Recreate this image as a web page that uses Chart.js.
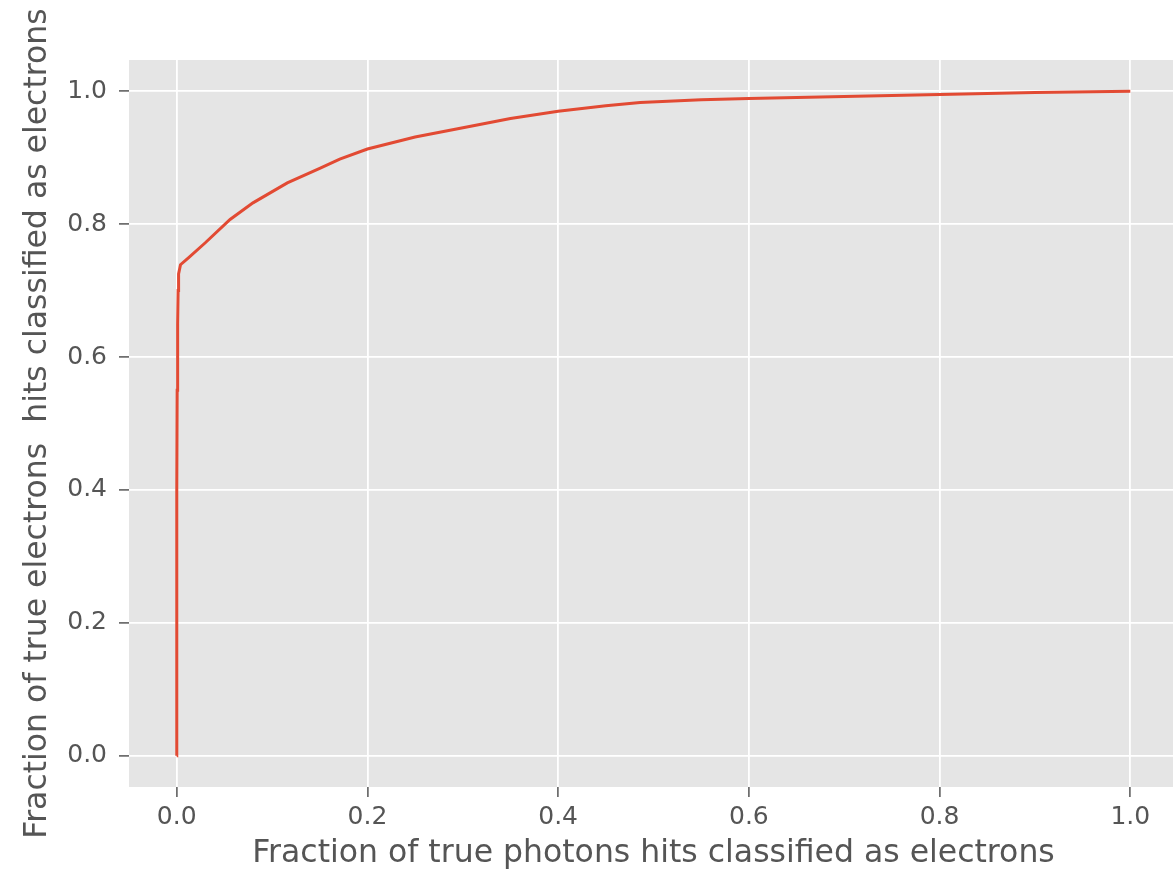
<!DOCTYPE html>
<html>
<head>
<meta charset="utf-8">
<script src="https://cdn.jsdelivr.net/npm/chart.js@4.4.0/dist/chart.umd.min.js"></script>
<style>
  html, body { margin: 0; padding: 0; background: #fff; overflow: hidden; }
  #wrap { width: 1173px; height: 874px; overflow: hidden; }
</style>
</head>
<body>
<div id="wrap"><canvas id="roc" width="1182" height="874"></canvas></div>
<script>
// ROC curve
const falsePos = [0, 0, 0.0002, 0.0005, 0.001, 0.0015, 0.002, 0.004, 0.012, 0.03, 0.056, 0.08, 0.116, 0.15, 0.171, 0.2, 0.25, 0.311, 0.35, 0.4, 0.45, 0.486, 0.55, 0.6, 0.7, 0.8, 0.9, 1.0];
const truePos = [0, 0.2, 0.4, 0.55, 0.65, 0.70, 0.725, 0.739, 0.749, 0.772, 0.807, 0.832, 0.862, 0.884, 0.898, 0.913, 0.931, 0.948, 0.959, 0.970, 0.978, 0.983, 0.987, 0.989, 0.992, 0.995, 0.998, 1.0];
const tickValues = [0, 0.2, 0.4, 0.6, 0.8, 1.0];

const fontFamily = '"DejaVu Sans", sans-serif';
const textColor = '#555555';

const panelBg = {
  id: 'panelBg',
  beforeDraw(chart) {
    const { ctx, chartArea: a } = chart;
    ctx.save();
    ctx.fillStyle = '#E5E5E5';
    ctx.fillRect(a.left, a.top, a.right - a.left, a.bottom - a.top);
    ctx.restore();
  }
};

const fixedTicks = scale => {
  scale.ticks = tickValues.map(v => ({ value: v }));
};

new Chart(document.getElementById('roc'), {
  type: 'scatter',
  data: {
    datasets: [{
      data: falsePos.map((x, i) => ({ x: x, y: truePos[i] })),
      showLine: true,
      borderColor: '#E24A33',
      borderWidth: 3,
      pointRadius: 0,
      tension: 0
    }]
  },
  options: {
    responsive: false,
    animation: false,
    devicePixelRatio: 1,
    layout: { padding: { top: 60, right: 4, left: 0, bottom: 0 } },
    plugins: { legend: { display: false }, tooltip: { enabled: false } },
    scales: {
      x: {
        type: 'linear',
        min: -0.05,
        max: 1.05,
        afterBuildTicks: fixedTicks,
        afterFit: s => { s.height = 87; },
        border: { display: false },
        grid: { color: '#ffffff', lineWidth: 1.8, drawTicks: true, tickLength: 10, tickColor: textColor, tickWidth: 1.5 },
        ticks: { color: textColor, padding: 5, font: { family: fontFamily, size: 25 }, callback: v => v.toFixed(1) },
        title: { display: true, text: 'Fraction of true photons hits classified as electrons', color: textColor, font: { family: fontFamily, size: 31.5 }, padding: { top: 0, bottom: 1 } }
      },
      y: {
        type: 'linear',
        min: -0.047,
        max: 1.047,
        afterBuildTicks: fixedTicks,
        afterFit: s => { s.width = 129; },
        border: { display: false },
        grid: { color: '#ffffff', lineWidth: 1.8, drawTicks: true, tickLength: 10, tickColor: textColor, tickWidth: 1.5 },
        ticks: { color: textColor, padding: 12, font: { family: fontFamily, size: 25 }, callback: v => v.toFixed(1) },
        title: { display: true, text: 'Fraction of true electrons  hits classified as electrons', color: textColor, font: { family: fontFamily, size: 31.5 }, padding: { top: 19, bottom: 0 } }
      }
    }
  },
  plugins: [panelBg]
});
</script>
</body>
</html>
